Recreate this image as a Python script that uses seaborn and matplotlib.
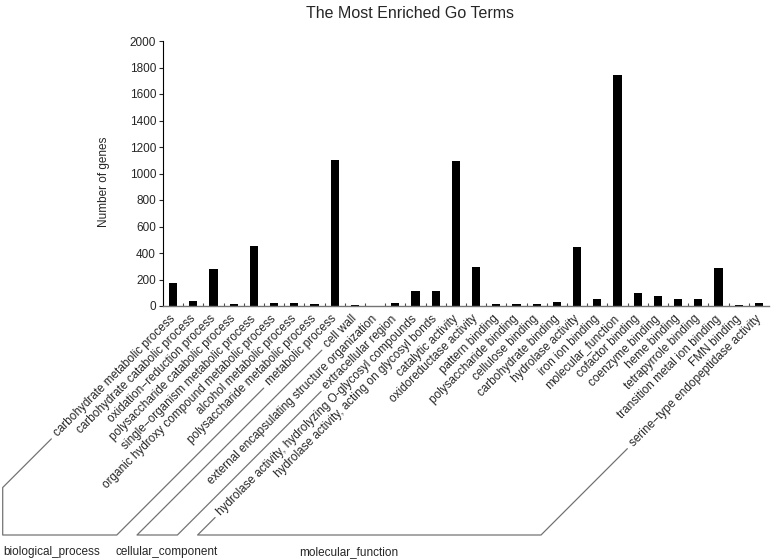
import matplotlib
matplotlib.use("Agg")
from matplotlib import pyplot as plt
from matplotlib.lines import Line2D
from matplotlib.transforms import IdentityTransform
import numpy as np
import pandas as pd
import seaborn as sns

go_terms = [
    "carbohydrate metabolic process",
    "carbohydrate catabolic process",
    "oxidation\u2212reduction process",
    "polysaccharide catabolic process",
    "single\u2212organism metabolic process",
    "organic hydroxy compound metabolic process",
    "alcohol metabolic process",
    "polysaccharide metabolic process",
    "metabolic process",
    "cell wall",
    "external encapsulating structure organization",
    "extracellular region",
    "hydrolase activity, hydrolyzing O-glycosyl compounds",
    "hydrolase activity, acting on glycosyl bonds",
    "catalytic activity",
    "oxidoreductase activity",
    "pattern binding",
    "polysaccharide binding",
    "cellulose binding",
    "carbohydrate binding",
    "hydrolase activity",
    "iron ion binding",
    "molecular_function",
    "cofactor binding",
    "coenzyme binding",
    "heme binding",
    "tetrapyrrole binding",
    "transition metal ion binding",
    "FMN binding",
    "serine\u2212type endopeptidase activity",
]
gene_counts = [172, 35, 278, 12, 455, 20, 20, 15, 1100, 8, 2, 20, 114, 114, 1098,
               293, 12, 12, 12, 30, 443, 56, 1740, 101, 76, 51, 51, 288, 10, 23]
groups = ["biological_process", "cellular_component", "molecular_function"]
group_sizes = [9, 3, 18]

sns.set_style("white")
plt.rcParams["font.family"] = ["Liberation Sans", "DejaVu Sans"]

df = pd.DataFrame({"term": go_terms, "genes": gene_counts})

W, H = 772, 559
fig = plt.figure(figsize=(W / 100, H / 100), dpi=100)
ax = fig.add_axes([163 / W, 1 - 306 / H, 606 / W, 265 / H])
sns.barplot(data=df, x="term", y="genes", color="black", saturation=1,
            width=0.41, edgecolor="black", linewidth=0, ax=ax)

ax.set_xlim(-0.5, len(go_terms) - 0.5)
ax.set_ylim(0, 2000)
ax.set_yticks(range(0, 2001, 200))
ax.set_xlabel("")
ax.set_ylabel("")
for s in ["top", "right"]:
    ax.spines[s].set_visible(False)
ax.spines["left"].set_color("black")
ax.spines["left"].set_linewidth(0.8)
ax.spines["bottom"].set_color("0.45")
ax.spines["bottom"].set_linewidth(1.0)

ax.tick_params(axis="y", left=True, direction="out", length=3, width=0.8,
               labelsize=8.5, pad=2)
ax.set_xticks(range(len(go_terms)))
ax.set_xticklabels(go_terms, rotation=45, ha="right", va="center",
                   rotation_mode="anchor", fontsize=8.5)
ax.tick_params(axis="x", which="major", length=0, pad=8)
ax.set_xticks(np.arange(0.5, len(go_terms) - 1, 1), minor=True)
ax.tick_params(axis="x", which="minor", bottom=True, direction="in",
               length=2, width=0.8, color="0.3")

fig.text(104 / W, 1 - 182 / H, "Number of genes", rotation=90,
         ha="center", va="center", fontsize=8.5)
fig.text(410 / W, 1 - 13 / H, "The Most Enriched Go Terms",
         ha="center", va="center", fontsize=11.5)

# group brackets, drawn along the label direction
fig.canvas.draw()
renderer = fig.canvas.get_renderer()
labels = ax.xaxis.get_majorticklabels()
c45 = np.cos(np.radians(45))


def label_start(i):
    t = labels[i]
    px, py = t.get_transform().transform(t.get_position())
    w, h, d = renderer.get_text_width_height_descent(
        t.get_text(), t.get_fontproperties(), ismath=False)
    return px - w * c45, py - w * c45


base = 24
margin = 2.7
gap = 4
group_text_x = [52, 167, 349]
start = 0
for name, n, tx in zip(groups, group_sizes, group_text_x):
    sx, sy = label_start(start)
    ex, ey = label_start(start + n - 1)
    sx, sy = sx - gap, sy - gap
    ex, ey = ex - gap, ey - gap
    xl = sx - (sy - base)
    if xl < margin:
        corner = sy - (sx - margin)
        xs = [sx, margin, margin]
        ys = [sy, corner, base]
    else:
        xs = [sx, xl]
        ys = [sy, base]
    xr = ex - (ey - base)
    xs += [xr, ex]
    ys += [base, ey]
    fig.add_artist(Line2D(xs, ys, transform=IdentityTransform(),
                          color="0.45", lw=0.9))
    fig.text(tx / W, 7 / H, name, ha="center", va="center", fontsize=8.5)
    start += n

fig.savefig("out.png", dpi=100)
